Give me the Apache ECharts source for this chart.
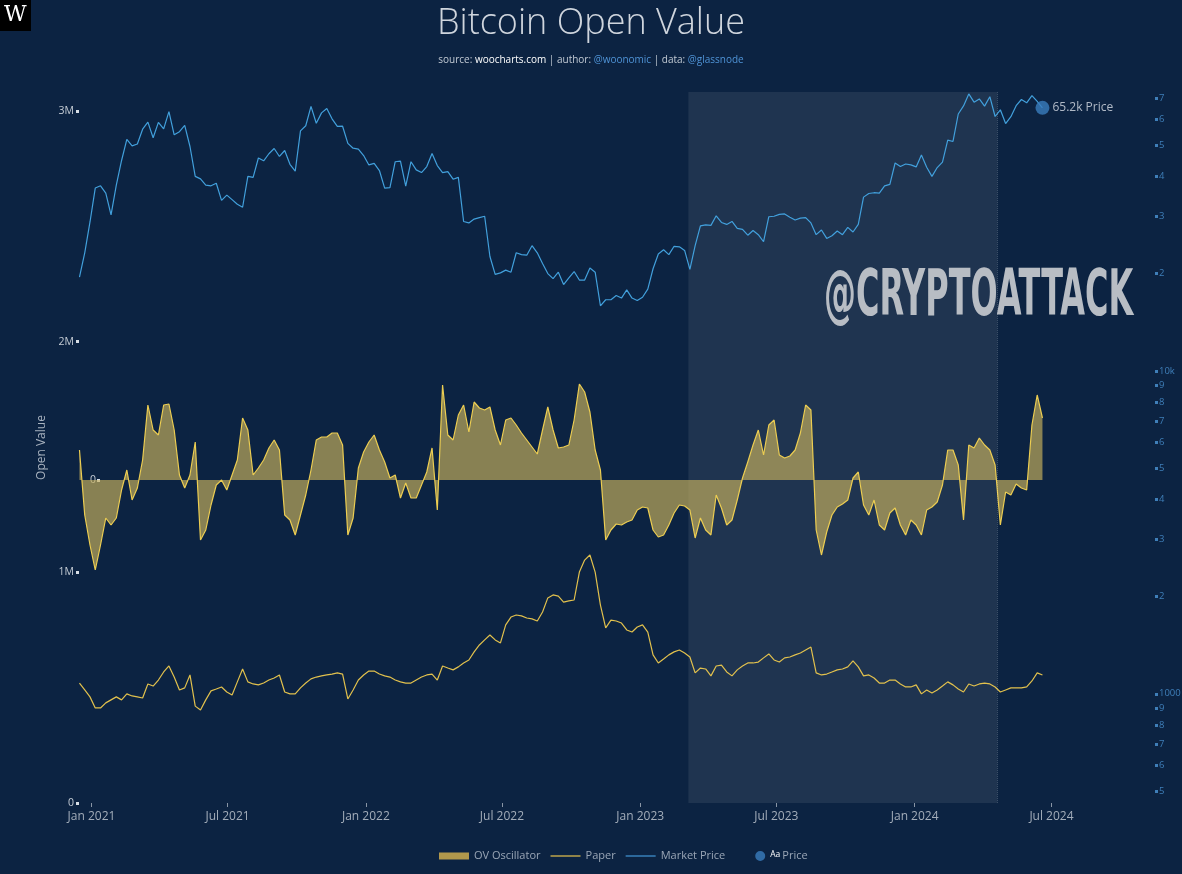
<!DOCTYPE html>
<html><head><meta charset="utf-8">
<script src="https://cdn.jsdelivr.net/npm/echarts@6/dist/echarts.min.js"></script>
<style>html,body{margin:0;padding:0;background:#0c2342;}#c{width:1182px;height:874px;}</style>
</head><body><div id="c"></div>
<script>
// weekly samples starting 2020-12-16
const startDate = [2020, 11, 16];
const stepDays = 7;

const marketPrice = [
19500,23200,28900,
36800,37400,35500,30400,37600,44800,52100,49700,50400,56000,
58900,52700,58800,56100,63500,53800,55000,57500,49500,40000,
39300,37600,37400,38100,33700,35000,33900,32800,32100,40000,
39700,45600,44700,47000,48800,46100,48100,43600,41500,55300,
57400,65900,58400,62900,64900,60300,57100,57200,50600,48900,
48600,46400,
43400,43900,41700,36800,36900,44400,44600,37300,44400,41900,
41100,42900,47100,43200,41100,41400,39200,39700,29000,28700,
29500,29800,30100,22600,19900,20100,20500,20200,23200,22900,
22800,24400,23200,21500,20000,19300,20200,18500,19400,20300,
19100,19100,20800,20200,15900,16600,16600,17100,16800,17800,
16800,16500,
16900,17900,20700,23000,23700,22900,24300,24200,23600,20600,
24400,28100,28300,28200,30200,28800,28400,29000,27600,27400,
26300,27200,26400,25100,30000,30100,30500,30600,29900,29300,
29700,29800,28700,26400,27300,25700,26200,27100,26400,27800,
26900,28400,34500,35400,35600,35500,37400,37800,44000,42900,
43700,43400,
42800,46600,42700,40000,42600,44300,51800,51300,62400,66100,
72000,67900,69500,66000,70600,61300,64300,58300,61200,66200,
69200,67600,71100,68300,65200
];

// Paper open value, thousands
const paperK = [
520,490,460,412,412,434,447,460,447,473,
464,460,455,516,507,533,568,594,546,490,
499,555,420,403,447,486,494,503,481,468,
525,581,525,516,512,520,533,542,555,481,
473,473,499,520,538,546,551,555,559,564,
559,451,490,533,555,572,572,559,551,546,
533,525,520,520,533,546,555,559,533,594,
585,577,590,607,620,655,685,707,728,707,
694,772,806,815,811,802,798,789,828,889,
902,897,871,876,880,1001,1053,1075,1001,858,
759,793,789,780,750,741,763,772,741,642,
607,624,642,655,663,650,633,564,585,581,
551,594,598,568,551,577,594,607,607,611,
629,646,620,611,629,633,642,650,663,676,
564,555,559,568,577,581,590,616,590,551,
555,542,520,520,533,533,516,503,503,512,
473,490,477,490,507,525,512,494,481,516,
507,516,520,516,503,481,490,499,499,499,
503,529,564,555
];

// OV Oscillator
const ovOsc = [
30,-35,-65,-90,-65,-38,-45,-38,-10,10,
-20,-8,20,75,50,45,75,76,50,5,
-8,5,38,-60,-50,-25,-5,0,-10,5,
20,62,50,5,12,20,32,40,30,-35,
-40,-55,-35,-15,10,40,43,43,47,47,
35,-55,-38,12,28,38,45,30,18,2,
5,-18,-3,-18,-18,-5,8,32,-30,95,
45,40,65,75,48,78,72,70,73,50,
35,60,62,55,47,40,33,26,50,73,
50,32,33,35,60,96,88,68,30,10,
-60,-50,-44,-45,-42,-40,-30,-27,-28,-50,
-57,-55,-45,-33,-25,-26,-30,-58,-38,-50,
-55,-15,-28,-45,-40,-20,2,18,35,50,
25,55,60,25,22,24,30,47,75,70,
-50,-75,-52,-35,-27,-24,-20,2,8,-25,
-35,-20,-45,-50,-33,-28,-45,-55,-40,-45,
-55,-30,-27,-22,-5,30,30,15,-40,35,
32,42,35,30,15,-45,-12,-15,-4,-8,
-10,55,85,62
];

const xTickDates = ['2021-01-01','2021-07-01','2022-01-01','2022-07-01','2023-01-01','2023-07-01','2024-01-01','2024-07-01'];
const xTickLabels = ['Jan 2021','Jul 2021','Jan 2022','Jul 2022','Jan 2023','Jul 2023','Jan 2024','Jul 2024'];
const leftTicksK = [0,1000,2000,3000];
const leftTickLabels = ['0','1M','2M','3M'];
const priceTicks = [500,600,700,800,900,1000,2000,3000,4000,5000,6000,7000,8000,9000,10000,20000,30000,40000,50000,60000,70000];
const priceTickLabels = ['5','6','7','8','9','1000','2','3','4','5','6','7','8','9','10k','2','3','4','5','6','7'];
const shadeRange = ['2023-03-06','2024-04-20'];
const lastPrice = ['2024-06-19', 65200];
const lastPriceLabel = '65.2k Price';

function parseD(s){const p=s.split('-').map(Number);return new Date(p[0],p[1]-1,p[2]).getTime();}
const dates = marketPrice.map((_, i) => new Date(startDate[0], startDate[1], startDate[2] + stepDays*i).getTime());
const xTickTs = xTickDates.map(parseD);

const FONT = '"Open Sans", "Noto Sans", sans-serif';
const chart = echarts.init(document.getElementById('c'));

function nearestIdx(arr, v, log){
  let best=0, bd=Infinity;
  arr.forEach((t,i)=>{const d = log ? Math.abs(Math.log(t)-Math.log(v)) : Math.abs(t-v); if(d<bd){bd=d;best=i;}});
  return best;
}

const LINE_ICON = 'path://M0,0 L30,0 L30,1.3 L0,1.3 Z';
const RECT_ICON = 'path://M0,0 L30,0 L30,7 L0,7 Z';
const DOT_ICON = 'path://M0,5 L0.01,5 L0.01,5.01 Z M20,5 A5,5 0 1 1 30,5 A5,5 0 1 1 20,5 Z';

chart.setOption({
  backgroundColor: '#0c2342',
  animation: false,
  textStyle: {fontFamily: FONT},
  title: {
    left: 'center', top: 1, itemGap: 13,
    text: 'Bitcoin Open Value',
    textStyle: {fontSize: 36, fontWeight: 300, color: '#cfd5dd', fontFamily: FONT},
    subtext: 'source: {b|woocharts.com} | author: {l|@woonomic} | data: {l|@glassnode}',
    subtextStyle: {fontSize: 10, color: '#c2cad4', fontFamily: FONT,
      rich: {b: {color: '#ffffff', fontSize: 10, fontFamily: FONT}, l: {color: '#4f93d6', fontSize: 10, fontFamily: FONT}}}
  },
  legend: {
    left: 434, top: 845, itemWidth: 30, itemHeight: 10, itemGap: 10, symbolKeepAspect: true,
    textStyle: {color: '#9aa6b6', fontSize: 11, fontFamily: FONT,
      rich: {aa: {fontSize: 8.5, color: '#ffffff', verticalAlign: 'top', padding: [0, 2, 3, 0], fontFamily: FONT}}},
    formatter: function(name){ return name === 'Price' ? '{aa|Aa}Price' : name; },
    data: [
      {name: 'OV Oscillator', icon: RECT_ICON, itemStyle: {color: '#b1984c'}},
      {name: 'Paper', icon: LINE_ICON, itemStyle: {color: '#d8b94c'}},
      {name: 'Market Price', icon: LINE_ICON, itemStyle: {color: '#3f8fcc'}},
      {name: 'Price', icon: DOT_ICON, itemStyle: {color: '#3a7dbe'}}
    ]
  },
  graphic: [
    {type: 'rect', left: 0, top: 0, shape: {width: 31, height: 31}, style: {fill: '#000000'}, z: 10},
    {type: 'text', left: 4, top: 4, style: {text: 'W', fill: '#ffffff', font: '22px "DejaVu Serif", serif'}, z: 11},
    {type: 'text', x: 824, y: 266, scaleX: 0.555, scaleY: 1, z: 10,
      style: {text: '@CRYPTOATTACK', fill: '#b8bdc4', font: 'bold 64px "Liberation Sans Narrow", "DejaVu Sans Condensed", sans-serif',
        shadowColor: 'rgba(0,0,0,0.9)', shadowOffsetX: 3, shadowOffsetY: 3, shadowBlur: 3}}
  ],
  grid: {left: 79, right: 27, top: 92, bottom: 71, containLabel: false, outerBoundsMode: 'none'},
  xAxis: {
    type: 'value',
    min: new Date(2020, 11, 15, 9).getTime(),
    max: new Date(2024, 10, 15, 17).getTime(),
    offset: 2,
    axisLine: {show: false},
    splitLine: {show: false},
    axisTick: {show: true, length: 4, lineStyle: {color: '#8995a5'}, customValues: xTickTs},
    axisLabel: {customValues: xTickTs, color: '#a3adba', fontSize: 12, margin: 6, fontFamily: FONT,
      formatter: function(v){ return xTickLabels[nearestIdx(xTickTs, v, false)]; }}
  },
  yAxis: [
    {
      type: 'value', position: 'left', min: 0, max: 3082,
      name: 'Open Value', nameLocation: 'middle', nameGap: 29, nameRotate: 90,
      nameTextStyle: {color: '#a8b2bf', fontSize: 12, fontFamily: FONT},
      axisLine: {show: false}, splitLine: {show: false},
      axisTick: {show: true, length: 3, lineStyle: {color: '#d8dee6', width: 3}, customValues: leftTicksK},
      axisLabel: {customValues: leftTicksK, color: '#c5ccd5', fontSize: 10.5, margin: 5, fontFamily: FONT,
        formatter: function(v){ return leftTickLabels[nearestIdx(leftTicksK, v, false)]; }}
    },
    {
      type: 'log', logBase: 10, position: 'right', min: 459, max: 73000,
      axisLine: {show: false}, splitLine: {show: false},
      axisTick: {show: true, length: 3, lineStyle: {color: '#3f7fb9', width: 3}, customValues: priceTicks},
      axisLabel: {customValues: priceTicks, color: '#3f7fb9', fontSize: 9.5, margin: 4, fontFamily: FONT,
        formatter: function(v){ return priceTickLabels[nearestIdx(priceTicks, v, true)]; }}
    },
    {
      type: 'value', position: 'left', offset: -21, min: -323, max: 388,
      axisLine: {show: false}, splitLine: {show: false},
      axisTick: {show: true, length: 3, lineStyle: {color: '#d8dee6', width: 3}, customValues: [0]},
      axisLabel: {customValues: [0], color: '#c5ccd5', fontSize: 10.5, margin: 4, fontFamily: FONT,
        formatter: function(){ return '0'; }}
    }
  ],
  series: [
    {
      name: 'OV Oscillator', type: 'line', yAxisIndex: 2, z: 2,
      data: dates.map((d, i) => [d, ovOsc[i]]),
      symbol: 'none', showSymbol: false,
      lineStyle: {color: '#eccd52', width: 1.2},
      itemStyle: {color: '#eccd52'},
      areaStyle: {color: 'rgba(200,178,92,0.66)', opacity: 1, origin: 'auto'},
      markArea: {silent: true, itemStyle: {color: 'rgba(255,255,255,0.08)'},
        data: [[{xAxis: parseD(shadeRange[0])}, {xAxis: parseD(shadeRange[1])}]]},
      markLine: {silent: true, symbol: 'none', label: {show: false},
        lineStyle: {color: 'rgba(255,255,255,0.18)', type: 'dotted', width: 1},
        data: [{xAxis: parseD(shadeRange[1])}]}
    },
    {
      name: 'Paper', type: 'line', yAxisIndex: 0, z: 3,
      data: dates.map((d, i) => [d, paperK[i]]),
      symbol: 'none', showSymbol: false,
      lineStyle: {color: '#e2c14d', width: 1.2},
      itemStyle: {color: '#e2c14d'}
    },
    {
      name: 'Market Price', type: 'line', yAxisIndex: 1, z: 3,
      data: dates.map((d, i) => [d, marketPrice[i]]),
      symbol: 'none', showSymbol: false,
      lineStyle: {color: '#42a0dc', width: 1.2},
      itemStyle: {color: '#42a0dc'}
    },
    {
      name: 'Price', type: 'scatter', yAxisIndex: 1, z: 4,
      data: [[parseD(lastPrice[0]), lastPrice[1]]],
      symbolSize: 14,
      itemStyle: {color: '#3a7dbe'},
      label: {show: true, position: 'right', distance: 3, formatter: lastPriceLabel, color: '#d9dfe7', fontSize: 12, fontFamily: FONT}
    }
  ]
});
</script>
</body></html>
